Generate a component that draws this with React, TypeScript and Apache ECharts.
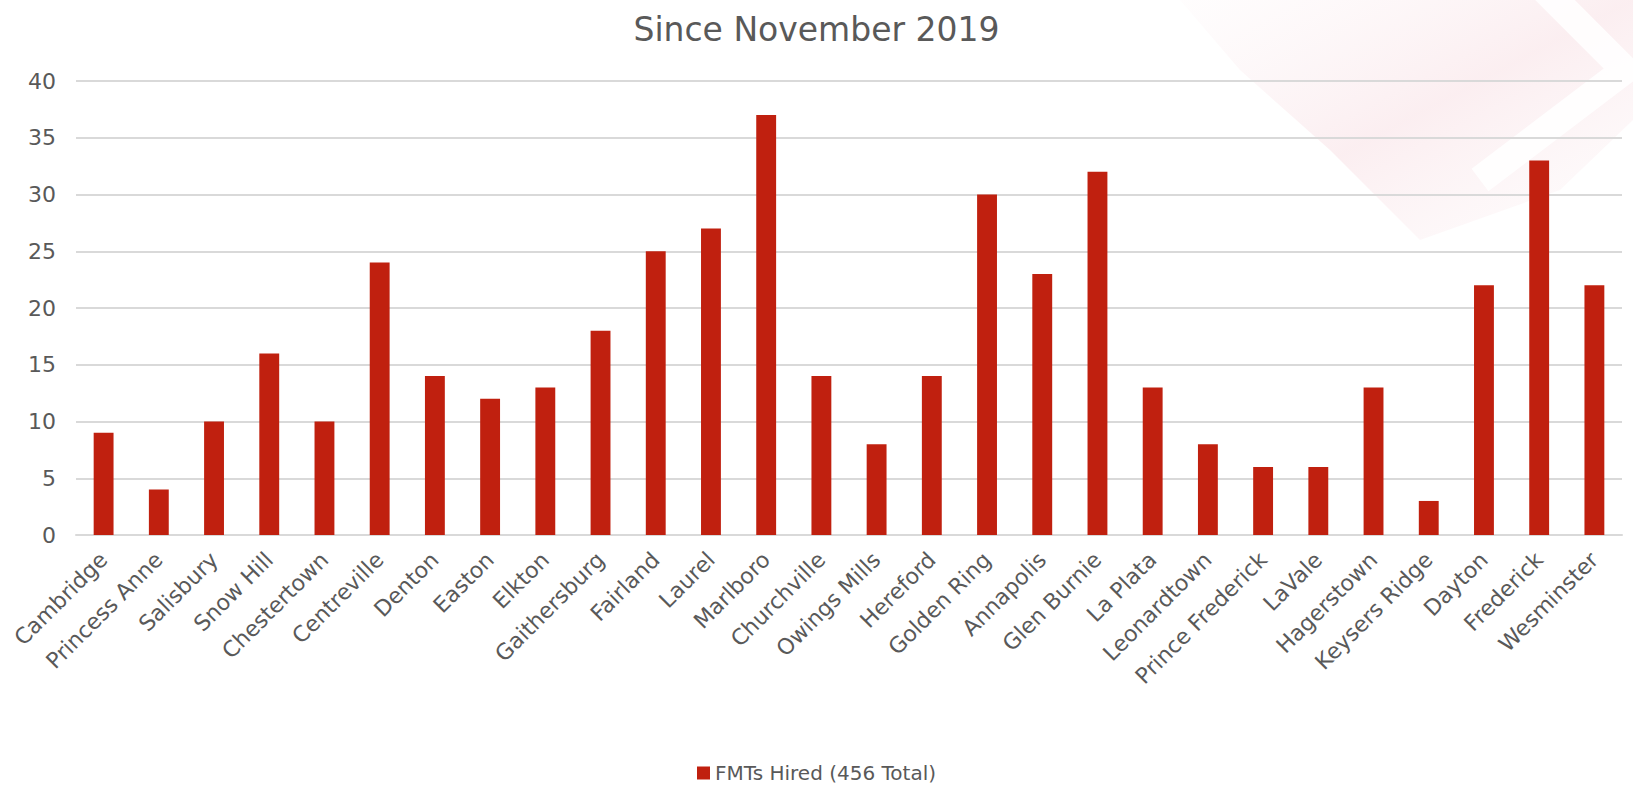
import React, { useEffect, useRef } from "react";
import * as echarts from "echarts";

const categories = [
  "Cambridge", "Princess Anne", "Salisbury", "Snow Hill", "Chestertown", "Centreville",
  "Denton", "Easton", "Elkton", "Gaithersburg", "Fairland", "Laurel", "Marlboro",
  "Churchville", "Owings Mills", "Hereford", "Golden Ring", "Annapolis", "Glen Burnie",
  "La Plata", "Leonardtown", "Prince Frederick", "LaVale", "Hagerstown", "Keysers Ridge",
  "Dayton", "Frederick", "Wesminster",
];
const fmtsHired = [9, 4, 10, 16, 10, 24, 14, 12, 13, 18, 25, 27, 37, 14, 8, 14, 30, 23, 32, 13, 8, 6, 6, 13, 3, 22, 33, 22];
const seriesName = "FMTs Hired (456 Total)";
const titleText = "Since November 2019";

const FONT = "'DejaVu Sans', sans-serif";
const GRAY = "#595959";

export default function App() {
  const ref = useRef<HTMLDivElement>(null);
  useEffect(() => {
    if (!ref.current) return;
    const chart = echarts.init(ref.current, undefined, { renderer: "svg" });
    chart.setOption({
      animation: false,
      backgroundColor: "#ffffff",
      graphic: [
        {
          type: "polygon",
          z: -10,
          shape: {
            points: [[1180, 0], [1633, 0], [1633, 120], [1560, 190], [1420, 240], [1330, 150], [1240, 70]],
          },
          style: {
            fill: new echarts.graphic.LinearGradient(0, 0, 1, 1, [
              { offset: 0, color: "rgba(240,190,200,0.03)" },
              { offset: 0.5, color: "rgba(232,150,165,0.16)" },
              { offset: 1, color: "rgba(240,190,200,0.03)" },
            ]),
          },
        },
        {
          type: "polyline",
          z: -9,
          shape: { points: [[1545, -10], [1625, 70], [1480, 180]] },
          style: { stroke: "rgba(255,255,255,0.85)", lineWidth: 28, fill: "none" },
        },
      ],
      title: {
        text: titleText,
        left: "center",
        top: 8,
        textStyle: { fontFamily: FONT, fontSize: 33, fontWeight: "normal", color: GRAY },
      },
      legend: {
        top: 758,
        left: 692,
        itemWidth: 13,
        itemHeight: 13,
        itemGap: 10,
        icon: "rect",
        textStyle: { fontFamily: FONT, fontSize: 20, color: GRAY },
      },
      grid: { left: 76, right: 11, top: 81, bottom: 256, containLabel: false },
      xAxis: {
        type: "category",
        data: categories,
        axisLine: { lineStyle: { color: "#d9d9d9", width: 2 } },
        axisTick: { show: false },
        axisLabel: {
          rotate: 45,
          interval: 0,
          margin: 21,
          fontFamily: FONT,
          fontSize: 22,
          color: GRAY,
        },
      },
      yAxis: {
        type: "value",
        min: 0,
        max: 40,
        interval: 5,
        axisLine: { show: false },
        axisTick: { show: false },
        splitLine: { lineStyle: { color: "#d9d9d9", width: 2 } },
        axisLabel: { fontFamily: FONT, fontSize: 22, color: GRAY, margin: 20 },
      },
      series: [
        {
          name: seriesName,
          type: "bar",
          data: fmtsHired,
          barWidth: "36%",
          itemStyle: { color: "#c0200f" },
        },
      ],
    });
    return () => chart.dispose();
  }, []);
  return (
    <div
      ref={ref}
      style={{ position: "fixed", left: 0, top: 0, width: 1633, height: 791 }}
    />
  );
}
